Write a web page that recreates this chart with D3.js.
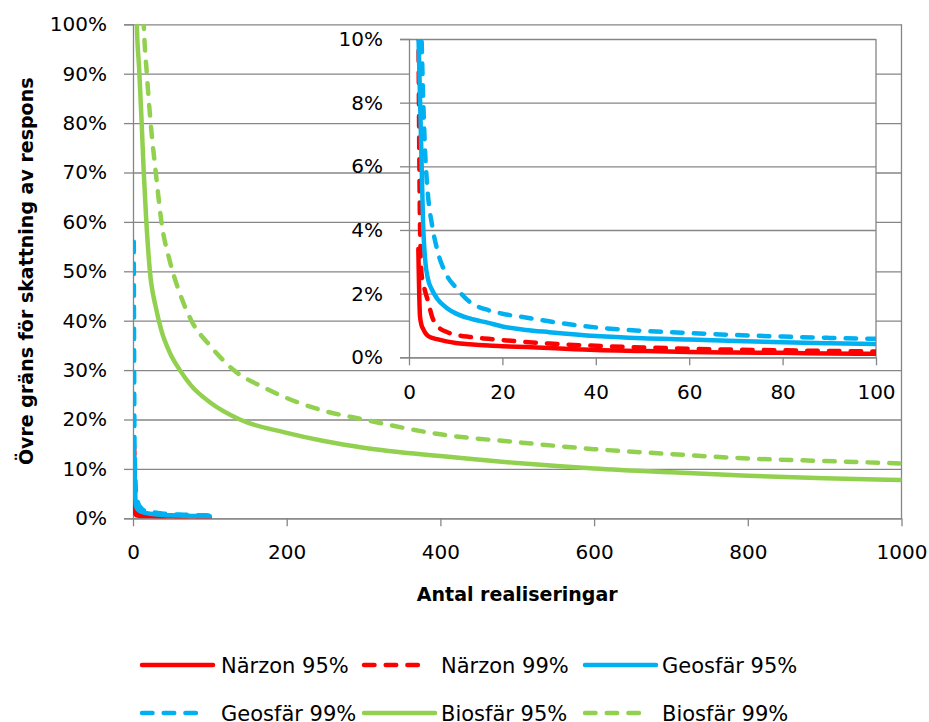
<!DOCTYPE html>
<html>
<head>
<meta charset="utf-8">
<script src="https://cdn.jsdelivr.net/npm/d3@7"></script>
<style>
  body { margin: 0; background: #fff; }
  text { font-family: "DejaVu Sans", sans-serif; fill: #000; }
</style>
</head>
<body>
<div id="chart"></div>
<script>
// antal realiseringar for the small-n series (Närzon, Geosfär), upper bound in %
const smallN = [1, 2, 2.35, 2.7, 3, 3.5, 4, 5, 6, 8, 10, 13, 17, 20, 25, 30, 40, 50, 60, 70, 80, 90, 100];
const narzon95 = [15.5, 3.4, 1.3, 1.0, 0.9, 0.76, 0.68, 0.61, 0.57, 0.5, 0.45, 0.41, 0.37, 0.35, 0.32, 0.29, 0.23, 0.2, 0.17, 0.15, 0.14, 0.12, 0.11];
const narzon99 = [15, 11, 4.2, 2.6, 2.35, 2.05, 1.8, 1.25, 1.0, 0.8, 0.71, 0.64, 0.58, 0.54, 0.48, 0.43, 0.36, 0.31, 0.27, 0.24, 0.22, 0.2, 0.18];
const geosfar95 = [14, 10.3, 8.2, 6.1, 4.3, 3.0, 2.5, 2.1, 1.85, 1.56, 1.38, 1.22, 1.08, 0.97, 0.86, 0.79, 0.67, 0.6, 0.56, 0.51, 0.47, 0.44, 0.42];
const geosfar99 = [56, 14, 12, 10.0, 8.3, 6.3, 5.2, 4.1, 3.4, 2.6, 2.2, 1.74, 1.48, 1.37, 1.25, 1.13, 0.94, 0.83, 0.76, 0.7, 0.65, 0.61, 0.58];

// Biosfär series run to 1000 realiseringar
const biosfar95N = [4, 5, 8, 11, 14, 17, 22, 30, 37, 48, 61, 76, 100, 139, 200, 250, 300, 400, 500, 600, 700, 800, 900, 1000];
const biosfar95 = [110, 100, 91, 81, 70, 61, 50, 42.5, 38, 33.5, 30, 26.8, 23.5, 20, 17.3, 15.6, 14.3, 12.6, 11.2, 10.1, 9.3, 8.6, 8.1, 7.75];
const biosfar99N = [12, 14, 18, 23, 30, 37, 48, 61, 76, 100, 131, 170, 243, 300, 400, 500, 600, 700, 800, 900, 1000];
const biosfar99 = [110, 100, 90, 80, 69.5, 60, 52, 45.5, 40, 35, 30, 26.5, 22, 20, 17, 15.4, 14, 13, 12.1, 11.6, 11.1];

const seriesNames = ["Närzon 95%", "Närzon 99%", "Geosfär 95%", "Geosfär 99%", "Biosfär 95%", "Biosfär 99%"];
const seriesColors = ["#FF0000", "#FF0000", "#00B0F0", "#00B0F0", "#92D050", "#92D050"];
const seriesDashed = [false, true, false, true, false, true];

const mainYTicks = [0, 10, 20, 30, 40, 50, 60, 70, 80, 90, 100];
const mainXTicks = [0, 200, 400, 600, 800, 1000];
const insetYTicks = [0, 2, 4, 6, 8, 10];
const insetXTicks = [0, 20, 40, 60, 80, 100];

const width = 929, height = 722;
const grey = "#868686";
const lineWidth = 4.5;
const dash = "10.5 11.2";

const zip = (ns, vs) => ns.map((n, i) => ({ n: n, v: vs[i] }));
const series = [
  zip(smallN, narzon95), zip(smallN, narzon99),
  zip(smallN, geosfar95), zip(smallN, geosfar99),
  zip(biosfar95N, biosfar95), zip(biosfar99N, biosfar99)
].map((points, i) => ({
  name: seriesNames[i], color: seriesColors[i], dashed: seriesDashed[i], points: points
}));

const svg = d3.select("#chart")
  .append("svg")
  .attr("width", width)
  .attr("height", height);

function styleAxis(g) {
  g.select(".domain").attr("stroke", grey).attr("stroke-width", 1.3);
  g.selectAll("line").attr("stroke", grey).attr("stroke-width", 1.3);
  g.selectAll("text").attr("font-size", 20).attr("font-family", "DejaVu Sans");
}

// ---------- main chart ----------
const main = { left: 133, right: 901.5, top: 24.3, bottom: 518.3 };
const x = d3.scaleLinear().domain([0, 1000]).range([main.left, main.right]);
const y = d3.scaleLinear().domain([0, 100]).range([main.bottom, main.top]);

svg.append("clipPath").attr("id", "clipMain")
  .append("rect")
  .attr("x", main.left).attr("y", main.top)
  .attr("width", main.right - main.left).attr("height", main.bottom - main.top);

// horizontal gridlines
svg.append("g")
  .attr("transform", `translate(${main.left},0)`)
  .call(d3.axisLeft(y).tickValues(mainYTicks).tickSize(-(main.right - main.left)).tickFormat(""))
  .call(g => g.select(".domain").remove())
  .call(g => g.selectAll("line").attr("stroke", grey).attr("stroke-width", 1.3));

svg.append("g")
  .attr("transform", `translate(${main.left},0)`)
  .call(d3.axisLeft(y).tickValues(mainYTicks).tickSize(9).tickPadding(17).tickFormat(d => d + "%"))
  .call(styleAxis);

svg.append("g")
  .attr("transform", `translate(0,${main.bottom})`)
  .call(d3.axisBottom(x).tickValues(mainXTicks).tickSize(8).tickPadding(19).tickSizeOuter(0).tickFormat(d => d))
  .call(styleAxis);

// right border of plot area
svg.append("line")
  .attr("x1", main.right).attr("x2", main.right)
  .attr("y1", main.top).attr("y2", main.bottom)
  .attr("stroke", grey).attr("stroke-width", 1.3);

const mainLine = d3.line()
  .x(d => x(d.n))
  .y(d => y(d.v))
  .curve(d3.curveMonotoneX);

svg.append("g")
  .attr("clip-path", "url(#clipMain)")
  .selectAll("path")
  .data(series)
  .join("path")
  .attr("d", d => mainLine(d.points))
  .attr("fill", "none")
  .attr("stroke", d => d.color)
  .attr("stroke-width", lineWidth)
  .attr("stroke-linecap", "round")
  .attr("stroke-linejoin", "round")
  .attr("stroke-dasharray", d => d.dashed ? dash : null);

// axis titles
svg.append("text")
  .attr("x", (main.left + main.right) / 2)
  .attr("y", 601)
  .attr("text-anchor", "middle")
  .attr("font-size", 19)
  .attr("font-weight", "bold")
  .text("Antal realiseringar");

svg.append("text")
  .attr("transform", `translate(33,${(main.top + main.bottom) / 2}) rotate(-90)`)
  .attr("text-anchor", "middle")
  .attr("font-size", 19)
  .attr("font-weight", "bold")
  .text("Övre gräns för skattning av respons");

// ---------- inset chart (first 100 realiseringar) ----------
const inset = { left: 409, right: 876, top: 39, bottom: 357.3 };
const xi = d3.scaleLinear().domain([0, 100]).range([inset.left, inset.right]);
const yi = d3.scaleLinear().domain([0, 10]).range([inset.bottom, inset.top]);

svg.append("rect")
  .attr("x", inset.left).attr("y", inset.top)
  .attr("width", inset.right - inset.left).attr("height", inset.bottom - inset.top)
  .attr("fill", "#fff");

svg.append("clipPath").attr("id", "clipInset")
  .append("rect")
  .attr("x", inset.left).attr("y", inset.top)
  .attr("width", inset.right - inset.left).attr("height", inset.bottom - inset.top);

svg.append("g")
  .attr("transform", `translate(${inset.left},0)`)
  .call(d3.axisLeft(yi).tickValues(insetYTicks).tickSize(-(inset.right - inset.left)).tickFormat(""))
  .call(g => g.select(".domain").remove())
  .call(g => g.selectAll("line").attr("stroke", grey).attr("stroke-width", 1.3));

svg.append("g")
  .attr("transform", `translate(${inset.left},0)`)
  .call(d3.axisLeft(yi).tickValues(insetYTicks).tickSize(9).tickPadding(17).tickFormat(d => d + "%"))
  .call(styleAxis);

svg.append("g")
  .attr("transform", `translate(0,${inset.bottom})`)
  .call(d3.axisBottom(xi).tickValues(insetXTicks).tickSize(8).tickPadding(20).tickSizeOuter(0))
  .call(styleAxis);

svg.append("line")
  .attr("x1", inset.right).attr("x2", inset.right)
  .attr("y1", inset.top).attr("y2", inset.bottom)
  .attr("stroke", grey).attr("stroke-width", 1.3);

const insetLine = d3.line()
  .x(d => xi(d.n))
  .y(d => yi(d.v))
  .curve(d3.curveMonotoneX);

// the inset starts at two realiseringar
svg.append("g")
  .attr("clip-path", "url(#clipInset)")
  .selectAll("path")
  .data(series.slice(0, 4))
  .join("path")
  .attr("d", d => insetLine(d.points.filter(p => p.n >= 2)))
  .attr("fill", "none")
  .attr("stroke", d => d.color)
  .attr("stroke-width", lineWidth)
  .attr("stroke-linecap", "round")
  .attr("stroke-linejoin", "round")
  .attr("stroke-dasharray", d => d.dashed ? dash : null);

// ---------- legend ----------
const legendRows = [665, 713];
const legendSwatchX = [142, 364, 585];
const legendTextX = [221, 441, 662];

const legend = svg.append("g")
  .selectAll("g")
  .data(series)
  .join("g")
  .attr("transform", (d, i) => `translate(0,${legendRows[Math.floor(i / 3)]})`);

legend.append("line")
  .attr("x1", (d, i) => legendSwatchX[i % 3])
  .attr("x2", (d, i) => legendSwatchX[i % 3] + (d.dashed ? 61 : 71))
  .attr("stroke", d => d.color)
  .attr("stroke-width", lineWidth)
  .attr("stroke-linecap", "round")
  .attr("stroke-dasharray", d => d.dashed ? dash : null);

legend.append("text")
  .attr("x", (d, i) => legendTextX[i % 3])
  .attr("y", 7.5)
  .attr("font-size", 21)
  .text(d => d.name);
</script>
</body>
</html>
